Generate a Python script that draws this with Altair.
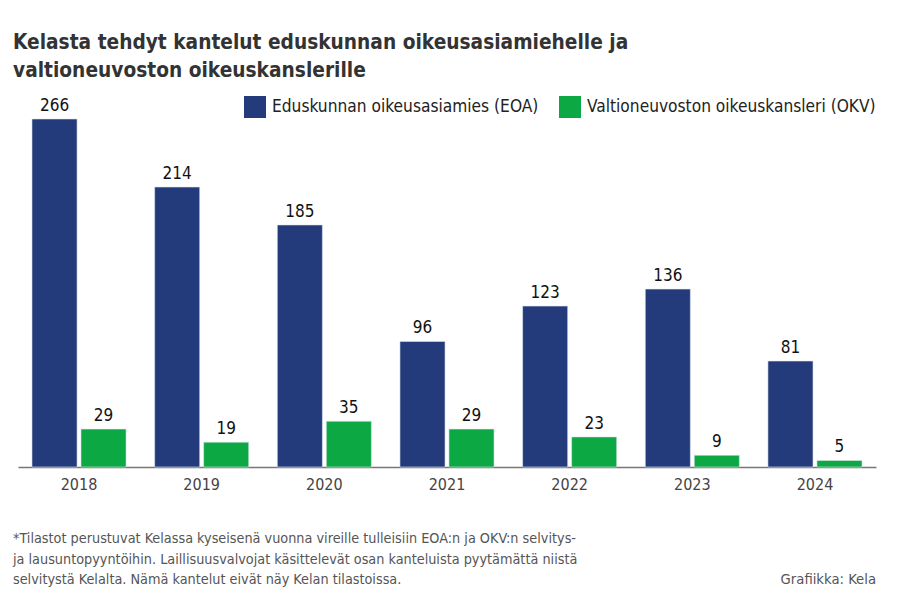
import altair as alt
import pandas as pd

years = ["2018", "2019", "2020", "2021", "2022", "2023", "2024"]
eoa = [266, 214, 185, 96, 123, 136, 81]
okv = [29, 19, 35, 29, 23, 9, 5]
series = ["Eduskunnan oikeusasiamies (EOA)", "Valtioneuvoston oikeuskansleri (OKV)"]
colors = ["#233B7A", "#0BA843"]

title_lines = ["Kelasta tehdyt kantelut eduskunnan oikeusasiamiehelle ja",
               "valtioneuvoston oikeuskanslerille"]
footnote = [" *Tilastot perustuvat Kelassa kyseisenä vuonna vireille tulleisiin EOA:n ja OKV:n selvitys-",
            "ja lausuntopyyntöihin. Laillisuusvalvojat käsittelevät osan kanteluista pyytämättä niistä",
            "selvitystä Kelalta. Nämä kantelut eivät näy Kelan tilastoissa."]
credit = "Grafiikka: Kela"

rows = []
for i, y in enumerate(years):
    rows.append({"year": y, "series": series[0], "value": eoa[i]})
    rows.append({"year": y, "series": series[1], "value": okv[i]})
df = pd.DataFrame(rows)

FONT = "DejaVu Sans Condensed, Roboto Condensed, sans-serif"

x = alt.X("year:N", title=None,
          scale=alt.Scale(paddingInner=0.233, paddingOuter=0.114),
          axis=alt.Axis(labelAngle=0, ticks=False, domainColor="#777777", domainWidth=1.5,
                        labelFontSize=16, labelColor="#444444", labelPadding=9, labelFont=FONT))
y = alt.Y("value:Q", title=None, scale=alt.Scale(domain=[0, 280.5], nice=False), axis=None)
xo = alt.XOffset("series:N", sort=series, scale=alt.Scale(paddingInner=0.08))

bars = alt.Chart(df).mark_bar(stroke="#dfe6ef", strokeWidth=0.6).encode(
    x=x, y=y, xOffset=xo,
    color=alt.Color("series:N", sort=series,
                    scale=alt.Scale(domain=series, range=colors),
                    legend=alt.Legend(title=None, orient="none", direction="horizontal",
                                      legendX=226, legendY=-4, symbolType="square",
                                      symbolSize=484, symbolStrokeWidth=0,
                                      labelFontSize=17.2, labelFont=FONT, labelColor="#222222",
                                      labelOffset=6, columnPadding=20, labelLimit=400)),
)

labels = alt.Chart(df).mark_text(baseline="alphabetic", dy=-8, fontSize=17, font=FONT,
                                 color="#111111").encode(
    x=x, y=y, xOffset=xo, text="value:Q")

foot_df = pd.DataFrame({"t": [footnote]})
foot = alt.Chart(foot_df).mark_text(align="left", baseline="alphabetic", fontSize=14.3,
                                    font=FONT, color="#555555", lineHeight=20.5).encode(
    x=alt.value(-5), y=alt.value(443), text="t")

cred_df = pd.DataFrame({"t": [credit]})
cred = alt.Chart(cred_df).mark_text(align="right", baseline="alphabetic", fontSize=14.7,
                                    font=FONT, color="#555555").encode(
    x=alt.value(858), y=alt.value(484), text="t")

chart = alt.layer(bars, labels, foot, cred).properties(
    width=858, height=367,
    autosize=alt.AutoSizeParams(type="none"),
    padding={"left": 10, "top": 92, "right": 16, "bottom": 140},
    title=alt.TitleParams(text=title_lines, anchor="start", font=FONT, fontSize=20.7,
                          fontWeight="bold", color="#333333", lineHeight=28, dx=0, offset=14),
).configure_view(stroke=None)

chart.save("out.html", embed_options={"renderer": "svg", "actions": False})
